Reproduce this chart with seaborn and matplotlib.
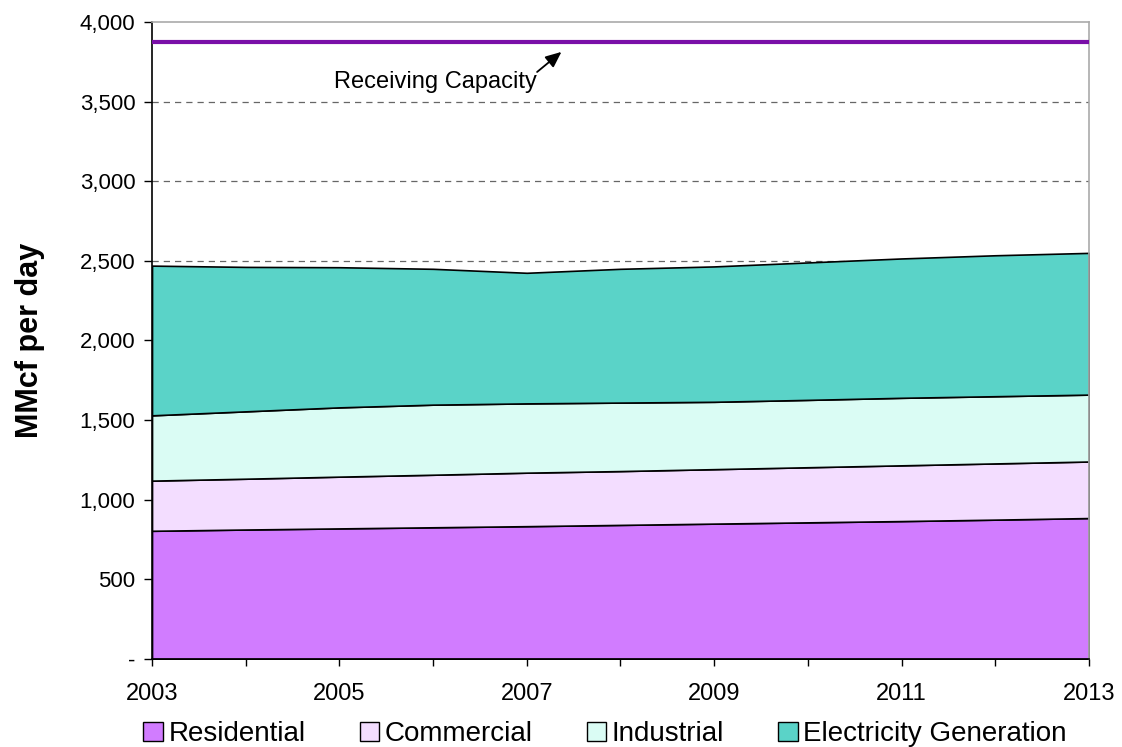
import numpy as np
import pandas as pd
import matplotlib
matplotlib.use("Agg")
import matplotlib.pyplot as plt
import seaborn as sns

# Natural gas demand by sector (MMcf per day)
years = [2003, 2004, 2005, 2006, 2007, 2008, 2009, 2010, 2011, 2012, 2013]
residential = [805, 813, 820, 827, 834, 842, 850, 858, 866, 875, 885]
commercial = [315, 319, 325, 330, 336, 338, 342, 346, 350, 353, 355]
industrial = [410, 423, 435, 440, 435, 430, 423, 423, 424, 422, 420]
electricity = [940, 907, 880, 853, 820, 840, 850, 863, 875, 885, 890]
receiving_capacity = 3875

sectors = ["Residential", "Commercial", "Industrial", "Electricity Generation"]
colors = ["#D17CFF", "#F3DDFF", "#DAFCF4", "#5AD3C8"]

sns.set_theme(style="white")
plt.rcParams["font.family"] = ["Liberation Sans", "DejaVu Sans"]
plt.rcParams["text.color"] = "black"
plt.rcParams["axes.labelcolor"] = "black"

fig = plt.figure(figsize=(11.22, 7.47), dpi=100)
ax = fig.add_axes([0.1355, 0.1178, 0.835, 0.8528])

df = pd.DataFrame({"year": years, "Residential": residential, "Commercial": commercial,
                   "Industrial": industrial, "Electricity Generation": electricity})

# dashed reference grid behind the areas
for v in [500, 1000, 1500, 2000, 2500, 3000, 3500]:
    ax.axhline(v, color="#666666", lw=0.9, ls=(0, (5, 4)), zorder=0)

polys = ax.stackplot(df["year"], [df[s] for s in sectors], colors=colors,
                     labels=sectors, edgecolor="black", linewidth=1.2, zorder=2)

# capacity line
cap = pd.DataFrame({"year": years, "cap": [receiving_capacity] * len(years)})
sns.lineplot(data=cap, x="year", y="cap", ax=ax, color="#7A0FA8", lw=3, zorder=3)

ax.text(2006.03, 3623, "Receiving Capacity", ha="center", va="center", fontsize=17)
ax.annotate("", xy=(2007.37, 3812), xytext=(2007.11, 3686),
            arrowprops=dict(arrowstyle="-|>,head_length=0.8,head_width=0.35",
                            color="black", lw=1.3, shrinkA=0, shrinkB=0))

ax.set_xlim(2003, 2013)
ax.set_ylim(0, 4000)
ax.set_xticks(range(2003, 2014, 2))
ax.set_xticks(range(2003, 2014), minor=True)
ax.set_yticks(range(0, 4001, 500))
ax.set_yticklabels(["-"] + [f"{v:,}" for v in range(500, 4001, 500)])
ax.tick_params(axis="both", which="both", direction="out", color="black",
               labelcolor="black", bottom=True, left=True)
ax.tick_params(axis="x", which="both", length=5, width=1, pad=12, labelsize=17)
ax.tick_params(axis="y", length=6, width=1, pad=6, labelsize=16)
ax.set_xlabel("")
ax.set_ylabel("MMcf per day", fontsize=22, fontweight="bold", labelpad=25)

for side in ["left", "bottom"]:
    ax.spines[side].set_color("black")
    ax.spines[side].set_linewidth(1.2)
for side in ["top", "right"]:
    ax.spines[side].set_color("#AAAAAA")
    ax.spines[side].set_linewidth(1.2)

leg = ax.legend(handles=polys, labels=sectors, loc="upper center",
                bbox_to_anchor=(0.4835, -0.08), ncol=4, frameon=False,
                fontsize=20, handlelength=0.7, handleheight=0.7,
                handletextpad=0.2, columnspacing=1.95, borderaxespad=0,
                labelcolor="black")
for h in leg.legend_handles:
    h.set_edgecolor("black")
    h.set_linewidth(1.0)

fig.savefig("out.png", dpi=100)
